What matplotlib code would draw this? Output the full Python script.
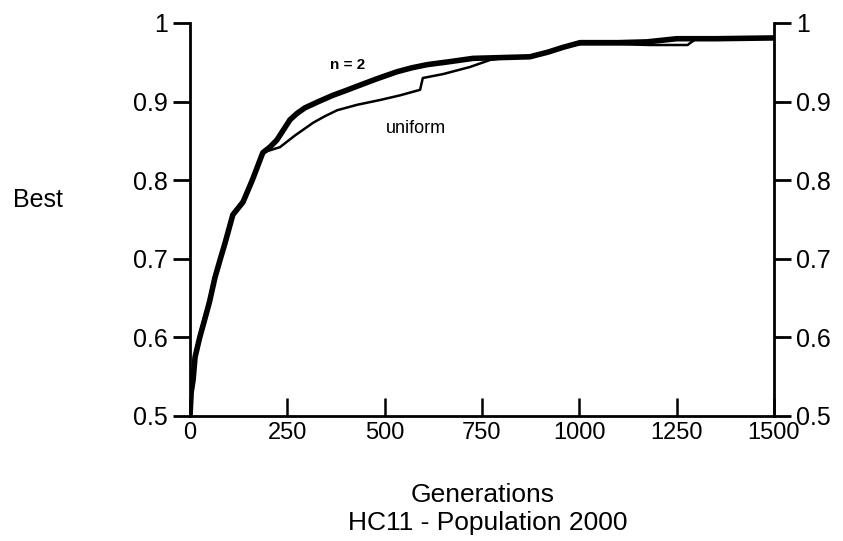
import matplotlib
matplotlib.use('Agg')
import matplotlib.pyplot as plt

# Best fitness per generation
gen_n2 = [0, 3, 8, 13, 25, 39, 50, 64, 78, 90, 110, 136, 160, 187, 205, 223, 240, 257,
          275, 295, 330, 367, 400, 437, 480, 532, 570, 609, 670, 727, 800, 873,
          920, 958, 1002, 1100, 1174, 1250, 1350, 1500]
best_n2 = [0.5, 0.53, 0.546, 0.575, 0.60, 0.625, 0.645, 0.676, 0.70, 0.72, 0.756, 0.772, 0.80,
           0.835, 0.842, 0.851, 0.864, 0.877, 0.885, 0.892, 0.90, 0.908, 0.914, 0.921,
           0.929, 0.938, 0.943, 0.947, 0.951, 0.955, 0.956, 0.957,
           0.963, 0.969, 0.975, 0.975, 0.976, 0.980, 0.980, 0.981]

gen_uni = [0, 3, 8, 13, 25, 39, 50, 64, 78, 90, 110, 136, 160, 187, 205, 231, 270,
           316, 345, 378, 430, 488, 540, 591, 598, 650, 719, 771, 800, 873,
           920, 958, 1002, 1100, 1183, 1278, 1300, 1500]
best_uni = [0.5, 0.535, 0.55, 0.58, 0.605, 0.63, 0.65, 0.68, 0.703, 0.724, 0.758, 0.775, 0.803,
            0.835, 0.838, 0.842, 0.857, 0.873, 0.881, 0.889, 0.896, 0.902, 0.908, 0.915,
            0.930, 0.935, 0.944, 0.953, 0.955, 0.957,
            0.963, 0.969, 0.973, 0.973, 0.972, 0.972, 0.980, 0.981]

x_ticks = [0, 250, 500, 750, 1000, 1250, 1500]
y_ticks = [0.5, 0.6, 0.7, 0.8, 0.9, 1.0]
y_labels = ['0.5', '0.6', '0.7', '0.8', '0.9', '1']

plt.rcParams['font.family'] = ['Liberation Sans', 'DejaVu Sans']

fig = plt.figure(figsize=(8.43, 5.41), dpi=100)
ax = fig.add_axes([0.2254, 0.2311, 0.6927, 0.7264])

ax.plot(gen_uni, best_uni, color='black', lw=1.8)
ax.plot(gen_n2, best_n2, color='black', lw=4)

ax.set_xlim(0, 1500)
ax.set_ylim(0.5, 1.0)

ax.spines['top'].set_visible(False)
for side in ['left', 'right', 'bottom']:
    ax.spines[side].set_linewidth(2)

ax.set_xticks(x_ticks)
ax.set_xticklabels([str(v) for v in x_ticks])
ax.set_yticks(y_ticks)
ax.set_yticklabels(y_labels)
ax.tick_params(axis='x', direction='in', length=13, width=1.8, labelsize=17, pad=4)
ax.tick_params(axis='y', direction='out', length=12, width=2, labelsize=18,
               left=True, right=True, labelleft=True, labelright=True, pad=4)

ax.text(406, 0.947, 'n = 2', fontsize=11, fontweight='bold', ha='center', va='center')
ax.text(580, 0.866, 'uniform', fontsize=13, ha='center', va='center')

fig.text(0.045, 0.630, 'Best', fontsize=18, ha='center', va='center')
fig.text(0.573, 0.085, 'Generations', fontsize=19, ha='center', va='center')
fig.text(0.578, 0.033, 'HC11 - Population 2000', fontsize=19, ha='center', va='center')

fig.savefig('out.png', dpi=100)
